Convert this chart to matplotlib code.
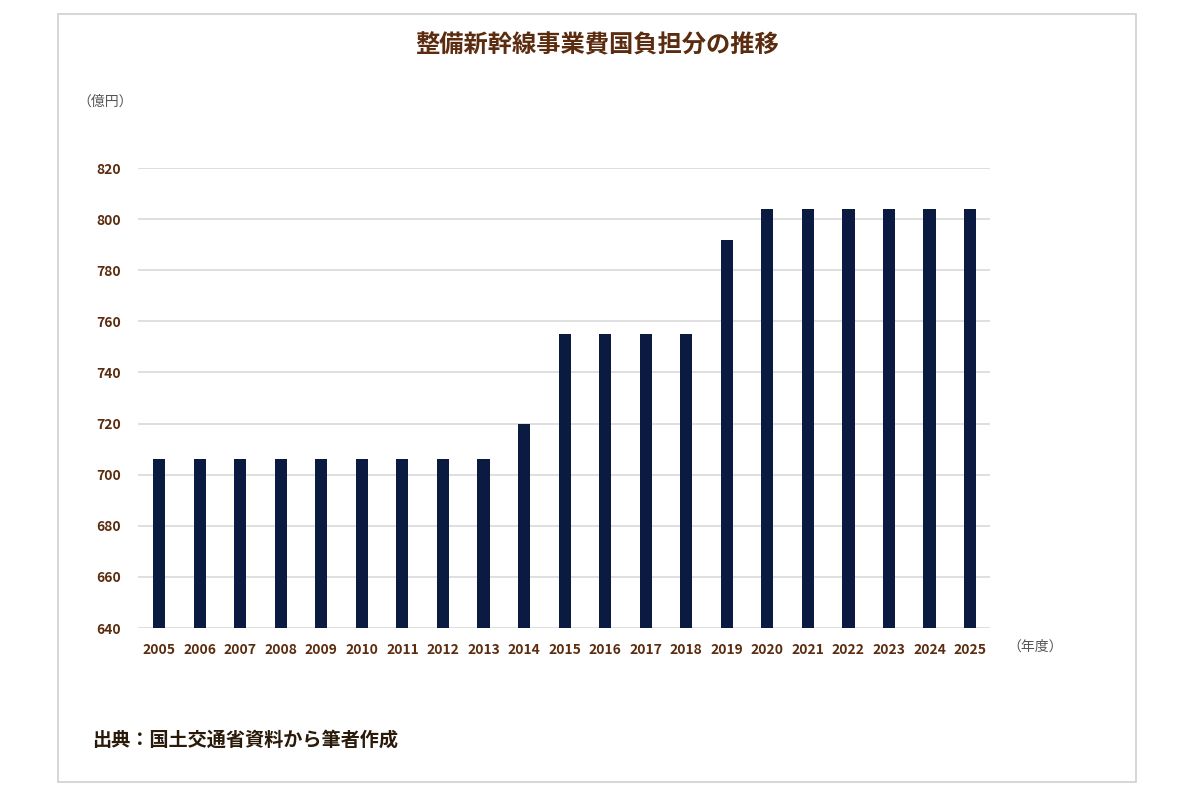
import matplotlib.pyplot as plt
from matplotlib.patches import Rectangle

plt.rcParams['font.family'] = ['Noto Sans CJK JP', 'DejaVu Sans']

years = ['2005', '2006', '2007', '2008', '2009', '2010', '2011', '2012', '2013', '2014',
         '2015', '2016', '2017', '2018', '2019', '2020', '2021', '2022', '2023', '2024', '2025']
values = [706, 706, 706, 706, 706, 706, 706, 706, 706, 720,
          755, 755, 755, 755, 792, 804, 804, 804, 804, 804, 804]
yticks = [640, 660, 680, 700, 720, 740, 760, 780, 800, 820]

brown = '#5b2c0f'
navy = '#0b1a40'

fig = plt.figure(figsize=(12, 8), dpi=100)
# outer frame
fig.patches.append(Rectangle((58 / 1200, 1 - 782 / 800), (1136 - 58) / 1200, (782 - 14) / 800,
                             transform=fig.transFigure, fill=False, edgecolor='#d0d0d0', lw=1.2))

ax = fig.add_axes([138 / 1200, 1 - 628 / 800, (990 - 138) / 1200, (628 - 168) / 800])
x = list(range(len(years)))
ax.bar(x, [v - 640 for v in values], bottom=640, width=0.3, color=navy, zorder=3)

ax.set_xlim(-0.52, 20.49)
ax.set_ylim(640, 820)
ax.set_yticks(yticks)
ax.set_xticks(x)
ax.set_xticklabels(years)
ax.grid(axis='y', color='#d9d9d9', lw=1.2, zorder=0)
for s in ax.spines.values():
    s.set_visible(False)
ax.tick_params(length=0, labelsize=10, labelcolor=brown, pad=11)
ax.tick_params(axis='y', pad=12)
for t in ax.get_xticklabels() + ax.get_yticklabels():
    t.set_fontweight('bold')

fig.text(597 / 1200, 1 - 45 / 800, '整備新幹線事業費国負担分の推移', ha='center', va='center',
         fontsize=17.5, color=brown, fontweight='bold')
fig.text(105 / 1200, 1 - 102 / 800, '（億円）', ha='center', va='center', fontsize=10, color='#555555')
fig.text(1035 / 1200, 1 - 647 / 800, '（年度）', ha='center', va='center', fontsize=10, color='#555555')
fig.text(92 / 1200, 1 - 740 / 800, '出典：国土交通省資料から筆者作成', ha='left', va='center',
         fontsize=13.8, color='#2a1a0a', fontweight='bold')

fig.savefig('out.png', dpi=100, facecolor='white')
